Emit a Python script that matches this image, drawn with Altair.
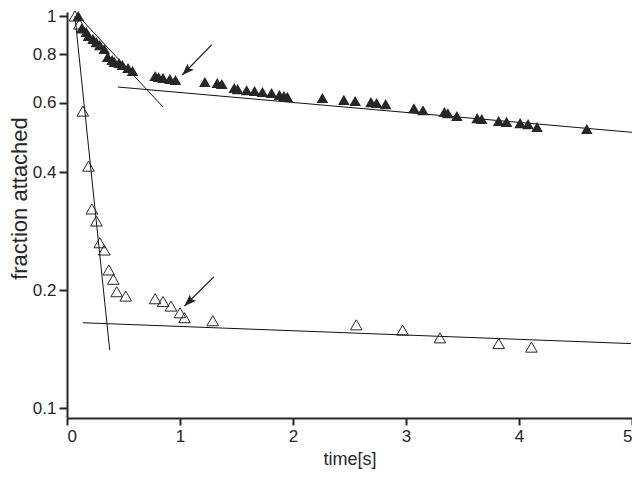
import altair as alt
import pandas as pd

# filled triangles (time [s], fraction attached)
filled_x = [0.10, 0.13, 0.17, 0.19, 0.23, 0.26, 0.29, 0.33, 0.36, 0.40,
            0.42, 0.46, 0.49, 0.54, 0.58, 0.78, 0.81, 0.85, 0.91, 0.96,
            1.22, 1.33, 1.37, 1.48, 1.51, 1.59, 1.66, 1.73, 1.81, 1.88,
            1.92, 1.95, 2.26, 2.45, 2.55, 2.69, 2.74, 2.82, 3.07, 3.15,
            3.34, 3.37, 3.45, 3.63, 3.67, 3.82, 3.89, 4.01, 4.08, 4.16,
            4.60]
filled_y = [1.0, 0.93, 0.91, 0.89, 0.874, 0.858, 0.843, 0.824, 0.786, 0.772,
            0.763, 0.759, 0.75, 0.737, 0.724, 0.703, 0.699, 0.695, 0.691, 0.687,
            0.679, 0.675, 0.671, 0.655, 0.651, 0.647, 0.644, 0.64, 0.636, 0.629,
            0.625, 0.622, 0.618, 0.611, 0.607, 0.603, 0.60, 0.596, 0.582, 0.575,
            0.569, 0.565, 0.556, 0.549, 0.546, 0.54, 0.537, 0.533, 0.53, 0.521,
            0.515]

# open triangles
open_x = [0.07, 0.11, 0.14, 0.19, 0.22, 0.26, 0.29, 0.33, 0.37, 0.41,
          0.44, 0.52, 0.78, 0.85, 0.92, 1.00, 1.04, 1.29, 2.56, 2.97,
          3.30, 3.82, 4.11]
open_y = [1.0, 0.954, 0.572, 0.414, 0.322, 0.30, 0.264, 0.253, 0.225, 0.213,
          0.198, 0.193, 0.190, 0.187, 0.182, 0.175, 0.170, 0.167, 0.163, 0.158,
          0.151, 0.146, 0.143]

# fitted lines: id, start/end
line_id = ["open_fast", "open_fast", "open_slow", "open_slow",
           "filled_fast", "filled_fast", "filled_slow", "filled_slow"]
line_x = [0.07, 0.378, 0.14, 4.99, 0.10, 0.85, 0.45, 5.0]
line_y = [1.0, 0.1406, 0.165, 0.146, 1.0, 0.586, 0.659, 0.505]

# arrows (start -> tip)
arrow_x = [1.28, 1.30]
arrow_y = [0.844, 0.216]
arrow_x2 = [1.02, 1.04]
arrow_y2 = [0.707, 0.182]

y_ticks = [0.1, 0.2, 0.4, 0.6, 0.8, 1]
x_ticks = [0, 1, 2, 3, 4, 5]

FONT = "Liberation Sans"
INK = "#262626"

df_f = pd.DataFrame({"t": filled_x, "f": filled_y})
df_o = pd.DataFrame({"t": open_x, "f": open_y})
df_l = pd.DataFrame({"id": line_id, "t": line_x, "f": line_y})
df_a = pd.DataFrame({"t": arrow_x, "f": arrow_y, "t2": arrow_x2, "f2": arrow_y2})

xscale = alt.Scale(domain=[0, 5], nice=False, zero=False)
yscale = alt.Scale(type="log", domain=[0.0943, 1.024], nice=False)

xaxis = alt.Axis(values=x_ticks, title="time[s]", grid=False, format="d",
                 tickSize=7, tickWidth=2, domainWidth=2, labelPadding=3,
                 titlePadding=6, titleFontSize=18)
yaxis = alt.Axis(values=y_ticks, title="fraction attached", grid=False,
                 format="~g", tickSize=8, tickWidth=2, domainWidth=2,
                 labelPadding=3, titlePadding=1, titleFontSize=22,
                 titleY=186)

def X(field="t"):
    return alt.X(f"{field}:Q", scale=xscale, axis=xaxis)

def Y(field="f"):
    return alt.Y(f"{field}:Q", scale=yscale, axis=yaxis)

lines = alt.Chart(df_l).mark_line(color="#111", strokeWidth=1).encode(
    x=X(), y=Y(), detail="id:N")

filled = alt.Chart(df_f).mark_point(
    shape="triangle-up", filled=True, color=INK, size=135, opacity=1
).encode(x=X(), y=Y())

opened = alt.Chart(df_o).mark_point(
    shape="triangle-up", filled=False, color=INK, size=135, strokeWidth=1,
    opacity=1
).encode(x=X(), y=Y())

arrow_lines = alt.Chart(df_a).mark_rule(color="#222", strokeWidth=1.3).encode(
    x=X("t"), y=Y("f"), x2="t2:Q", y2="f2:Q")

arrow_heads = alt.Chart(df_a).mark_point(
    shape="M0,0 L-0.75,2 L0,1.6 L0.75,2 Z", filled=True, color="#222",
    size=144, angle=225, opacity=1
).encode(x=X("t2"), y=Y("f2"))

chart = alt.layer(lines, filled, opened, arrow_lines, arrow_heads).properties(
    width=565, height=406,
    autosize=alt.AutoSizeParams(type="none"),
    padding={"left": 59, "top": 4, "right": 0, "bottom": 56},
).configure_view(stroke=None).configure_axis(
    domainColor=INK, tickColor=INK, labelColor=INK, titleColor=INK,
    labelFont=FONT, titleFont=FONT, labelFontSize=17,
    titleFontWeight="normal",
)

chart.save("out.html", embed_options={"renderer": "svg", "actions": False})
